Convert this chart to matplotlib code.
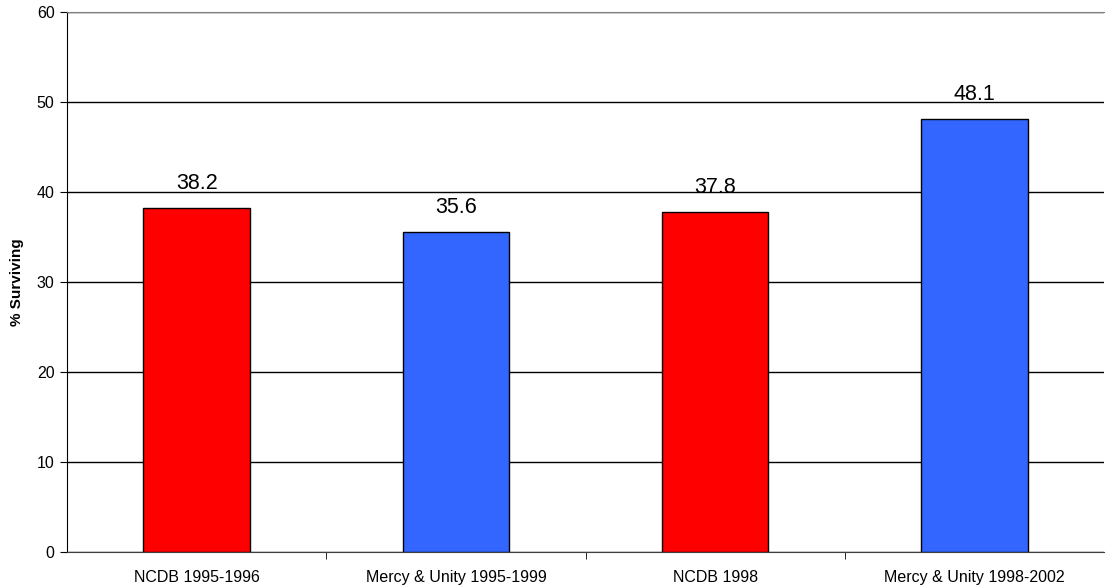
import matplotlib
matplotlib.use("Agg")
import matplotlib.pyplot as plt
import numpy as np

plt.rcParams['font.family'] = ['Liberation Sans', 'DejaVu Sans']

groups = ['NCDB 1995-1996', 'Mercy & Unity 1995-1999', 'NCDB 1998', 'Mercy & Unity 1998-2002']
surviving = [38.2, 35.6, 37.8, 48.1]
bar_colors = ['#FF0000', '#3366FF', '#FF0000', '#3366FF']

fig = plt.figure(figsize=(11.06, 5.88), dpi=100)
ax = fig.add_axes([67/1106, 1-552/588, (1104-67)/1106, 540/588])

x = np.arange(len(groups))
bars = ax.bar(x, surviving, width=0.41, color=bar_colors, edgecolor='black', linewidth=1, zorder=3)

for b, v in zip(bars, surviving):
    ax.annotate('%.1f' % v, (b.get_x()+b.get_width()/2, v), xytext=(0, 10),
                textcoords='offset points', ha='center', va='bottom', fontsize=15.5, zorder=4)

ax.set_xlim(-0.5, len(groups)-0.5)
ax.set_ylim(0, 60)
ax.set_yticks(range(0, 61, 10))
ax.yaxis.grid(True, color='black', linewidth=1, zorder=0)
ax.set_xticks(x)
ax.set_xticklabels(groups, fontsize=11.5)
ax.set_xticks(np.arange(0.5, len(groups)-1, 1), minor=True)
ax.tick_params(axis='x', which='major', length=0, pad=13)
ax.tick_params(axis='x', which='minor', length=5, color='black', direction='out')
ax.tick_params(axis='y', length=5, direction='out', labelsize=11.5, pad=4)

ax.spines['right'].set_visible(False)
ax.spines['top'].set_color('#808080')
ax.spines['bottom'].set_color('#404040')
ax.spines['left'].set_color('black')

# y label sits close to the left edge of the figure
fig.text(17/1106, 1-282/588, '% Surviving', rotation=90, ha='center', va='center',
         fontsize=11, fontweight='bold')

fig.savefig('out.png', dpi=100)
